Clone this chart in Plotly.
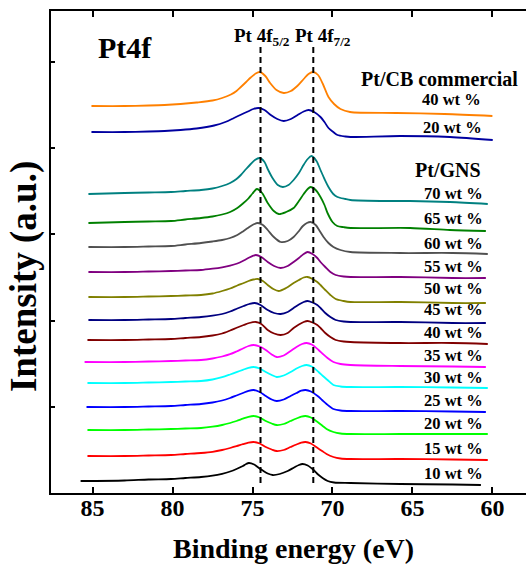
import plotly.graph_objects as go

# ---------------- data (binding energy in eV, intensity in a.u.) ----------------
energy_cb40 = [85.07, 83.0, 81.5, 80.5, 79.5, 78.5, 77.5, 76.9, 76.35, 76.0, 75.73, 75.4, 75.11, 74.8, 74.55,
               74.2, 73.9, 73.5, 73.05, 72.6, 72.2, 71.8, 71.5, 71.2, 70.9, 70.6, 70.25, 69.9, 69.5, 68.9, 66.0, 63.0, 60.0]
int_cb40 = [387, 387, 387.5, 388, 389, 390.5, 392.5, 395, 398.5, 402, 406, 411, 415.5, 419.5, 421,
            417, 410, 403, 400, 402, 407, 414, 419, 421, 418, 409, 396, 389, 384, 381, 380, 379, 377]

energy_cb20 = [85.07, 83.0, 81.5, 80.5, 79.5, 78.5, 77.4, 76.7, 76.16, 75.7, 75.29, 74.95, 74.61,
               74.25, 73.86, 73.45, 73.05, 72.6, 72.18, 71.8, 71.49, 71.15, 70.75, 70.5, 70.25, 69.95, 69.69, 69.2, 68.88, 65.77, 62.66, 59.98]
int_cb20 = [361, 361, 361.5, 362, 363, 364.5, 367.5, 371, 375, 378.5, 381.5, 384, 385,
            383, 378, 374, 372, 374, 378, 381.5, 383, 381, 376, 371, 365, 361, 358, 356.5, 356, 357, 356, 353]

energy_70 = [85.26, 83.0, 81.5, 80.09, 79.2, 78.22, 77.5, 76.9, 76.4, 76.0, 75.73, 75.4, 75.11, 74.85, 74.55,
             74.25, 74.05, 73.75, 73.42, 73.11, 72.75, 72.43, 72.1, 71.81, 71.55, 71.31, 71.0, 70.75, 70.5, 70.25, 69.95, 69.69, 69.2, 68.88, 66.5, 65.15, 62.66, 60.29]
int_70 = [299, 300, 300.5, 301, 302, 303, 304.5, 307, 310, 314, 318, 324, 329, 333, 335,
          331, 324, 315, 308, 306, 308, 313, 320, 328, 334, 337, 332, 323, 314, 306, 299, 296, 294, 293, 292, 292, 291, 289]

energy_65 = [85.26, 83.0, 81.5, 80.09, 79.2, 78.22, 77.5, 76.9, 76.4, 75.95, 75.6, 75.29, 75.0, 74.73,
             74.4, 74.05, 73.67, 73.36, 72.9, 72.43, 72.1, 71.8, 71.55, 71.37, 71.05, 70.75, 70.5, 70.31, 70.0, 69.7, 69.3, 68.88, 65.15, 62.66, 60.41]
int_65 = [270, 271, 271.5, 272, 273.5, 275, 276.5, 278.5, 281, 285, 289.5, 294, 299.5, 304,
          300, 290, 282, 279, 281, 285, 292, 299, 304, 306, 303, 296, 288, 280, 271, 267, 265.8, 265, 265, 263, 262]

energy_60 = [85.26, 83.0, 81.5, 80.09, 79.2, 78.22, 77.5, 76.9, 76.4, 75.95, 75.6, 75.29, 74.95, 74.67,
             74.35, 74.05, 73.67, 73.24, 72.8, 72.43, 72.15, 71.85, 71.6, 71.37, 71.05, 70.8, 70.56, 70.25, 69.94, 69.5, 68.88, 65.77, 62.5, 60.29]
int_60 = [246, 246, 246.5, 247, 248.5, 250, 251.5, 253, 255, 258, 261.5, 265, 268.5, 270,
          268, 263, 256, 251, 252, 256, 261, 267, 270, 271, 268, 262, 256, 250, 246, 243, 241, 240, 240, 239]

energy_55 = [85.26, 83.0, 81.5, 80.09, 79.2, 78.22, 77.5, 76.9, 76.4, 75.95, 75.55, 75.2, 74.95, 74.79,
             74.45, 74.05, 73.65, 73.24, 72.8, 72.43, 72.1, 71.8, 71.56, 71.25, 70.95, 70.75, 70.45, 70.13, 69.8, 69.3, 68.88, 65.77, 62.5, 60.41]
int_55 = [221, 221, 221.5, 222, 222.5, 223, 224.3, 225.7, 227.3, 229.5, 232.5, 235.5, 237.3, 238,
          236, 231, 227, 225, 227, 231, 235, 239, 241, 239, 235, 231, 226, 221, 218, 216.5, 216, 216, 215, 215]

energy_50 = [85.26, 83.0, 81.5, 80.09, 79.2, 78.22, 77.5, 76.9, 76.4, 75.95, 75.55, 75.25, 74.95, 74.67,
             74.35, 74.05, 73.7, 73.36, 72.9, 72.43, 72.1, 71.8, 71.56, 71.25, 70.95, 70.75, 70.45, 70.13, 69.8, 69.3, 68.88, 65.77, 62.5, 60.41]
int_50 = [196, 196, 196.5, 197, 197.5, 198, 199.5, 202, 204.5, 207.5, 210, 212, 213.5, 214,
          212, 208, 204, 202, 205, 210, 213, 215.5, 216, 214, 211, 208, 203, 198, 194, 192, 191, 191, 190, 190]

energy_45 = [85.26, 83.0, 81.5, 80.09, 79.2, 78.22, 77.5, 76.9, 76.4, 75.95, 75.55, 75.2, 74.86,
             74.5, 74.05, 73.65, 73.24, 72.8, 72.43, 72.1, 71.8, 71.56, 71.25, 70.95, 70.75, 70.45, 70.13, 69.8, 69.3, 68.88, 65.77, 62.5, 60.41]
int_45 = [173, 173, 173.5, 174, 175, 176, 177.3, 179, 181.5, 184.5, 187, 189, 190,
          188, 183, 180, 179, 181, 185, 188.5, 191, 192, 190.5, 188, 185, 180, 176, 173, 171.5, 171, 171, 170, 170]

energy_40 = [85.32, 83.0, 81.5, 80.09, 79.2, 78.22, 77.5, 76.9, 76.4, 75.95, 75.55, 75.2, 74.79,
             74.45, 74.05, 73.65, 73.24, 72.8, 72.43, 72.1, 71.8, 71.56, 71.25, 70.95, 70.75, 70.45, 70.13, 69.8, 69.3, 68.88, 65.77, 62.5, 60.29]
int_40 = [153, 153, 153.5, 154, 155, 156, 157.5, 159.5, 162.5, 165.5, 168, 170, 171,
          169, 163, 159.5, 158, 160, 165, 168.5, 171, 172, 170.5, 168, 165, 160, 156, 153, 151.5, 151, 150, 150, 149]

energy_35 = [85.50, 83.0, 81.5, 80.09, 79.2, 78.22, 77.5, 76.9, 76.4, 76.0, 75.6, 75.25, 74.92,
             74.55, 74.17, 73.8, 73.49, 73.05, 72.62, 72.25, 71.9, 71.62, 71.3, 70.87, 70.6, 70.31, 69.94, 69.5, 68.88, 65.77, 62.5, 60.41]
int_35 = [131, 131, 131.5, 132, 132.5, 133, 134.5, 136.5, 138.8, 141.5, 144.5, 147, 148,
          146.5, 143, 138.5, 136, 137.5, 142, 146, 149, 150, 148.5, 143, 139, 135, 131, 129, 128, 127, 126.5, 126]

energy_30 = [85.32, 83.0, 81.5, 80.09, 79.2, 78.22, 77.5, 76.9, 76.4, 76.0, 75.6, 75.25, 74.92,
             74.55, 74.17, 73.8, 73.49, 73.05, 72.62, 72.25, 71.9, 71.62, 71.3, 70.87, 70.6, 70.31, 69.94, 69.5, 68.88, 65.77, 62.5, 60.29]
int_30 = [110, 110, 110.5, 111, 111.5, 112, 113.5, 115.8, 118.5, 120.8, 123.2, 125.2, 126,
          124.5, 121, 118, 116, 117.5, 121, 124.5, 127, 128, 126.5, 121, 117, 113, 108, 106.5, 106, 106, 105.5, 105]

energy_25 = [85.38, 83.0, 81.5, 80.09, 79.2, 78.22, 77.5, 76.9, 76.4, 76.0, 75.6, 75.25, 74.92,
             74.55, 74.17, 73.8, 73.49, 73.05, 72.62, 72.25, 71.95, 71.68, 71.35, 70.93, 70.65, 70.37, 69.94, 69.5, 68.88, 65.77, 62.5, 60.41]
int_25 = [86, 86, 86.5, 87, 88, 89, 90.5, 92.5, 95, 97.5, 100, 102.2, 103,
          101, 97, 93.5, 92, 93.5, 97, 100, 102.3, 103, 101.5, 97, 93, 89, 84, 82.5, 82, 82, 81.5, 81]

energy_20 = [85.32, 83.0, 81.5, 80.09, 79.2, 78.22, 77.5, 76.9, 76.4, 76.0, 75.6, 75.25, 74.92,
             74.55, 74.17, 73.8, 73.49, 73.05, 72.62, 72.25, 71.95, 71.68, 71.35, 70.93, 70.65, 70.37, 69.94, 69.5, 68.88, 65.77, 62.5, 60.29]
int_20 = [63, 63, 63.5, 64, 64.5, 65, 66.3, 68, 70, 72, 74.3, 76.2, 77,
          75.5, 72, 69.5, 68, 69, 72, 74.5, 76.4, 77, 75.5, 71, 67.5, 64, 61, 59.5, 59, 59, 59, 59]

energy_15 = [85.32, 83.0, 81.5, 80.09, 79.2, 78.22, 77.5, 76.9, 76.4, 76.0, 75.6, 75.25, 74.92,
             74.55, 74.17, 73.8, 73.49, 73.05, 72.62, 72.25, 71.95, 71.68, 71.35, 70.93, 70.65, 70.37, 69.94, 69.5, 68.88, 65.77, 62.5, 60.29]
int_15 = [37, 37, 37.5, 38, 39, 40, 41.2, 43, 45, 46.8, 48.8, 50.4, 51,
          49.5, 46, 43.5, 42, 43, 46, 48.5, 50.4, 51, 49.5, 45, 42, 39, 36, 34.5, 34, 34, 33.5, 33]

energy_10 = [85.75, 83.0, 81.5, 80.09, 79.2, 78.22, 77.5, 76.9, 76.4, 76.0, 75.6, 75.4, 75.23,
             74.9, 74.6, 74.36, 74.05, 73.74, 73.3, 72.8, 72.4, 72.1, 71.87, 71.55, 71.18, 70.9, 70.62, 70.3, 69.9, 68.88, 65.77, 62.5, 60.72]
int_10 = [12, 12.5, 13.5, 14, 15, 16, 17.3, 19.2, 21.5, 24, 27, 29, 30,
          28.5, 25, 22.5, 19.5, 18, 19, 22, 25.5, 28, 29, 27.5, 23, 18.5, 15, 12, 10.5, 10, 9, 8.5, 8]

series_names = ["Pt/CB 40 wt %", "Pt/CB 20 wt %", "70 wt %", "65 wt %", "60 wt %", "55 wt %",
                "50 wt %", "45 wt %", "40 wt %", "35 wt %", "30 wt %", "25 wt %", "20 wt %",
                "15 wt %", "10 wt %"]
series_colors = ["#FF8000", "#0000A0", "#008080", "#008000", "#505050", "#800080",
                 "#808000", "#000080", "#800000", "#FF00FF", "#00FFFF", "#0000FF", "#00FF00",
                 "#FF0000", "#000000"]
series_x = [energy_cb40, energy_cb20, energy_70, energy_65, energy_60, energy_55, energy_50,
            energy_45, energy_40, energy_35, energy_30, energy_25, energy_20, energy_15, energy_10]
series_y = [int_cb40, int_cb20, int_70, int_65, int_60, int_55, int_50,
            int_45, int_40, int_35, int_30, int_25, int_20, int_15, int_10]

# peak reference lines (Pt 4f5/2 and Pt 4f7/2)
peak_energy = [74.5, 71.2]
peak_line_span = [10, 449]

# label texts and positions
label_texts = ["40 wt %", "20 wt %", "70 wt %", "65 wt %", "60 wt %", "55 wt %", "50 wt %",
               "45 wt %", "40 wt %", "35 wt %", "30 wt %", "25 wt %", "20 wt %", "15 wt %", "10 wt %"]
label_x = [60.6, 60.55, 60.45, 60.45, 60.45, 60.45, 60.45, 60.45, 60.45, 60.45, 60.45, 60.45, 60.45, 60.45, 60.45]
label_y = [394, 366, 300, 275, 250, 227, 205, 184, 161, 138, 116, 93, 70, 45, 20]

group_texts = ["Pt/CB commercial", "Pt/GNS"]
group_x = [58.3, 60.6]
group_y = [414, 323]

FONT = "Liberation Serif, Times New Roman, serif"

fig = go.Figure()
for name, col, xs, ys in zip(series_names, series_colors, series_x, series_y):
    fig.add_trace(go.Scatter(x=xs, y=ys, mode="lines", name=name,
                             line=dict(color=col, width=1.8, shape="spline", smoothing=0.8),
                             showlegend=False, hoverinfo="skip"))

for e in peak_energy:
    fig.add_trace(go.Scatter(x=[e, e], y=peak_line_span, mode="lines",
                             line=dict(color="black", width=2, dash="6px,4px"),
                             showlegend=False, hoverinfo="skip"))

annotations = []
for t, x, y in zip(label_texts, label_x, label_y):
    annotations.append(dict(x=x, y=y, xref="x", yref="y", text=t, showarrow=False,
                            xanchor="right", yanchor="middle",
                            font=dict(family=FONT, size=16.5, color="black", weight="bold")))
for t, x, y in zip(group_texts, group_x, group_y):
    annotations.append(dict(x=x, y=y, xref="x", yref="y", text=t, showarrow=False,
                            xanchor="right", yanchor="middle",
                            font=dict(family=FONT, size=20, color="black", weight="bold")))

annotations.append(dict(x=84.76, y=446, xref="x", yref="y", text="Pt4f", showarrow=False,
                        xanchor="left", yanchor="middle",
                        font=dict(family=FONT, size=30, color="black", weight="bold")))
annotations.append(dict(x=76.3, y=456, xref="x", yref="y", text="Pt 4f<sub>5/2</sub>", showarrow=False,
                        xanchor="left", yanchor="middle",
                        font=dict(family=FONT, size=19, color="black", weight="bold")))
annotations.append(dict(x=72.5, y=456, xref="x", yref="y", text="Pt 4f<sub>7/2</sub>", showarrow=False,
                        xanchor="left", yanchor="middle",
                        font=dict(family=FONT, size=19, color="black", weight="bold")))

# axis titles
annotations.append(dict(x=0.5095, y=-0.116, xref="paper", yref="paper", text="Binding energy (eV)",
                        showarrow=False, xanchor="center", yanchor="middle",
                        font=dict(family=FONT, size=28, color="black", weight="bold")))
annotations.append(dict(x=-0.057, y=0.45, xref="paper", yref="paper", text="Intensity (a.u.)",
                        showarrow=False, xanchor="center", yanchor="middle", textangle=-90,
                        font=dict(family=FONT, size=37, color="black", weight="bold")))

fig.update_layout(
    width=526, height=564,
    margin=dict(l=51, r=0, t=11, b=71, autoexpand=False),
    paper_bgcolor="white", plot_bgcolor="white",
    annotations=annotations,
    xaxis=dict(range=[87.6, 57.9], tickvals=[85, 80, 75, 70, 65, 60],
               ticks="inside", ticklen=6, tickwidth=2, tickcolor="black",
               showline=True, linecolor="black", linewidth=2, mirror="ticks",
               showgrid=False, zeroline=False, automargin=False,
               ticklabelstandoff=-8,
               tickfont=dict(family=FONT, size=24, color="black", weight="bold")),
    yaxis=dict(range=[0, 482], tick0=0, dtick=86.25,
               ticks="inside", ticklen=4, tickwidth=1.5, tickcolor="black",
               showticklabels=False, automargin=False,
               showline=True, linecolor="black", linewidth=2, mirror=False,
               showgrid=False, zeroline=False),
)

fig.write_html("out.html", config={"displayModeBar": False},
               post_script="document.body.style.margin='0';document.body.style.padding='0';"
                           "document.body.style.overflow='hidden';")
